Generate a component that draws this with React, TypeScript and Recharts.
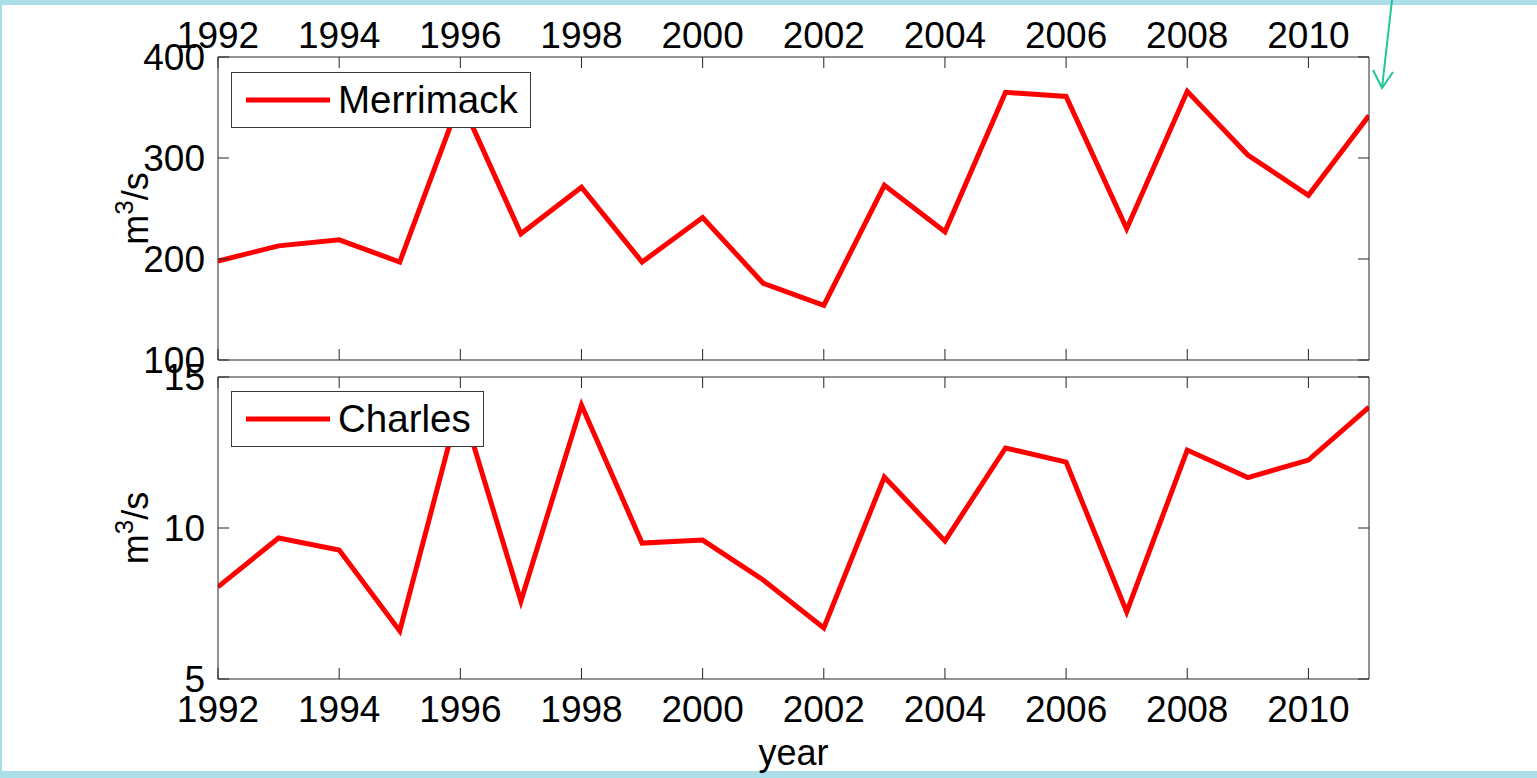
import React from 'react';
import { LineChart, Line, XAxis, YAxis, Legend } from 'recharts';

const years = [1992, 1993, 1994, 1995, 1996, 1997, 1998, 1999, 2000, 2001, 2002, 2003, 2004, 2005, 2006, 2007, 2008, 2009, 2010, 2011];
const merrimackFlow = [198, 213, 219, 197, 358, 225, 271, 197, 241, 176, 154, 273, 227, 365, 361, 230, 366, 303, 263, 342];
const charlesFlow = [8.05, 9.67, 9.27, 6.59, 14.2, 7.58, 14.07, 9.5, 9.6, 8.28, 6.69, 11.69, 9.57, 12.65, 12.18, 7.22, 12.58, 11.67, 12.25, 14.0];

const yearTicks = [1992, 1994, 1996, 1998, 2000, 2002, 2004, 2006, 2008, 2010];
const merrimackTicks = [100, 200, 300, 400];
const charlesTicks = [5, 10, 15];

const data = years.map((year, i) => ({ year, merrimack: merrimackFlow[i], charles: charlesFlow[i] }));

const FONT = '"Liberation Sans", Arial, Helvetica, sans-serif';
const AXIS = '#262626';
const TICK_LEN = 11;
const TICK_FONT = 37;

// matlab style: ticks point into the box
const xTick = (side: 'top' | 'bottom', showLabel: boolean) => (props: any) => {
  const { x, y, payload } = props;
  const dir = side === 'bottom' ? -1 : 1;
  return (
    <g>
      <line x1={x} y1={y} x2={x} y2={y + dir * TICK_LEN} stroke={AXIS} />
      {showLabel && (
        <text x={x} y={side === 'bottom' ? y + 43 : y - 9} textAnchor="middle" fontSize={TICK_FONT} fontFamily={FONT} fill="#000">
          {payload.value}
        </text>
      )}
    </g>
  );
};

const yTick = (side: 'left' | 'right') => (props: any) => {
  const { x, y, payload } = props;
  const dir = side === 'left' ? 1 : -1;
  return (
    <g>
      <line x1={x} y1={y} x2={x + dir * TICK_LEN} y2={y} stroke={AXIS} />
      {side === 'left' && (
        <text x={x - 13} y={y + 13} textAnchor="end" fontSize={TICK_FONT} fontFamily={FONT} fill="#000">
          {payload.value}
        </text>
      )}
    </g>
  );
};

const unitLabel = (props: any) => {
  const { viewBox } = props;
  const cx = viewBox.x + viewBox.width - 70;
  const cy = viewBox.y + viewBox.height / 2;
  return (
    <text x={cx} y={cy} transform={`rotate(-90, ${cx}, ${cy})`} textAnchor="middle" fontSize={36} fontFamily={FONT} fill="#000">
      <tspan>m</tspan>
      <tspan dy={-15} fontSize={26}>3</tspan>
      <tspan dy={15}>/s</tspan>
    </text>
  );
};

const yearLabel = (props: any) => {
  const { viewBox } = props;
  return (
    <text x={viewBox.x + viewBox.width / 2} y={viewBox.y + 86} textAnchor="middle" fontSize={36} fontFamily={FONT} fill="#000">
      year
    </text>
  );
};

const legendBox = (props: any) => {
  const { payload } = props;
  return (
    <div
      style={{
        display: 'inline-flex',
        alignItems: 'center',
        height: 54,
        padding: '0 12px 0 14px',
        border: '1px solid #3a3a3a',
        background: '#fff',
        fontFamily: FONT,
        fontSize: 38.5,
        color: '#000',
        whiteSpace: 'nowrap',
      }}
    >
      {payload.map((entry: any) => (
        <React.Fragment key={entry.value}>
          <svg width={84} height={8} style={{ display: 'block' }}>
            <line x1={0} y1={4} x2={84} y2={4} stroke={entry.color} strokeWidth={5} />
          </svg>
          <span style={{ marginLeft: 8, lineHeight: 1 }}>{entry.value}</span>
        </React.Fragment>
      ))}
    </div>
  );
};

interface PanelProps {
  dataKey: string;
  name: string;
  yDomain: [number, number];
  yTicks: number[];
  height: number;
  margin: { top: number; right: number; bottom: number; left: number };
  topLabels: boolean;
  bottomLabels: boolean;
  legendTop: number;
}

// axes get 1px of room (a 0px axis is not drawn), margins are trimmed to match
const Panel: React.FC<PanelProps> = ({ dataKey, name, yDomain, yTicks, height, margin, topLabels, bottomLabels, legendTop }) => (
  <LineChart width={1537} height={height} data={data} margin={margin}>
    <XAxis
      xAxisId="bottom"
      dataKey="year"
      type="number"
      orientation="bottom"
      domain={[1992, 2011]}
      allowDataOverflow
      ticks={yearTicks}
      height={1}
      tickSize={0}
      tickMargin={0}
      tickLine={false}
      axisLine={{ stroke: AXIS }}
      tick={xTick('bottom', bottomLabels)}
      interval={0}
      label={bottomLabels ? { content: yearLabel } : undefined}
    />
    <XAxis
      xAxisId="top"
      dataKey="year"
      type="number"
      orientation="top"
      domain={[1992, 2011]}
      allowDataOverflow
      ticks={yearTicks}
      height={1}
      tickSize={0}
      tickMargin={0}
      tickLine={false}
      axisLine={{ stroke: AXIS }}
      tick={xTick('top', topLabels)}
      interval={0}
    />
    <YAxis
      yAxisId="left"
      type="number"
      orientation="left"
      domain={yDomain}
      allowDataOverflow
      ticks={yTicks}
      width={1}
      tickSize={0}
      tickMargin={0}
      tickLine={false}
      axisLine={{ stroke: AXIS }}
      tick={yTick('left')}
      interval={0}
      label={{ content: unitLabel }}
    />
    <YAxis
      yAxisId="right"
      type="number"
      orientation="right"
      domain={yDomain}
      allowDataOverflow
      ticks={yTicks}
      width={1}
      tickSize={0}
      tickMargin={0}
      tickLine={false}
      axisLine={{ stroke: AXIS }}
      tick={yTick('right')}
      interval={0}
    />
    <Legend
      layout="vertical"
      align="center"
      verticalAlign="middle"
      content={legendBox}
      wrapperStyle={{ left: 231, top: legendTop, width: 'auto', height: 'auto', zIndex: 5 }}
    />
    <Line
      xAxisId="bottom"
      yAxisId="left"
      type="linear"
      dataKey={dataKey}
      name={name}
      stroke="#ff0000"
      strokeWidth={5}
      dot={false}
      isAnimationActive={false}
    />
  </LineChart>
);

export default function App() {
  return (
    <div style={{ position: 'absolute', left: 0, top: 0, width: 1537, height: 778, background: '#aadfe9', overflow: 'hidden' }}>
      <div style={{ position: 'absolute', left: 2, top: 5, width: 1535, height: 766, background: '#fff' }} />
      <div style={{ position: 'absolute', left: 0, top: 0 }}>
        <Panel
          dataKey="merrimack"
          name="Merrimack"
          yDomain={[100, 400]}
          yTicks={merrimackTicks}
          height={392}
          margin={{ top: 56, right: 167, bottom: 31, left: 217 }}
          topLabels
          bottomLabels={false}
          legendTop={72}
        />
      </div>
      <div style={{ position: 'absolute', left: 0, top: 345 }}>
        <Panel
          dataKey="charles"
          name="Charles"
          yDomain={[5, 15]}
          yTicks={charlesTicks}
          height={433}
          margin={{ top: 31, right: 167, bottom: 98, left: 217 }}
          topLabels={false}
          bottomLabels
          legendTop={46}
        />
      </div>
      <svg width={1537} height={778} style={{ position: 'absolute', left: 0, top: 0, pointerEvents: 'none' }}>
        <g stroke="#1fc69a" strokeWidth={2} fill="none">
          <line x1={1392} y1={0} x2={1382} y2={88} />
          <polyline points="1373,70 1382,88 1393,72" />
        </g>
      </svg>
    </div>
  );
}
